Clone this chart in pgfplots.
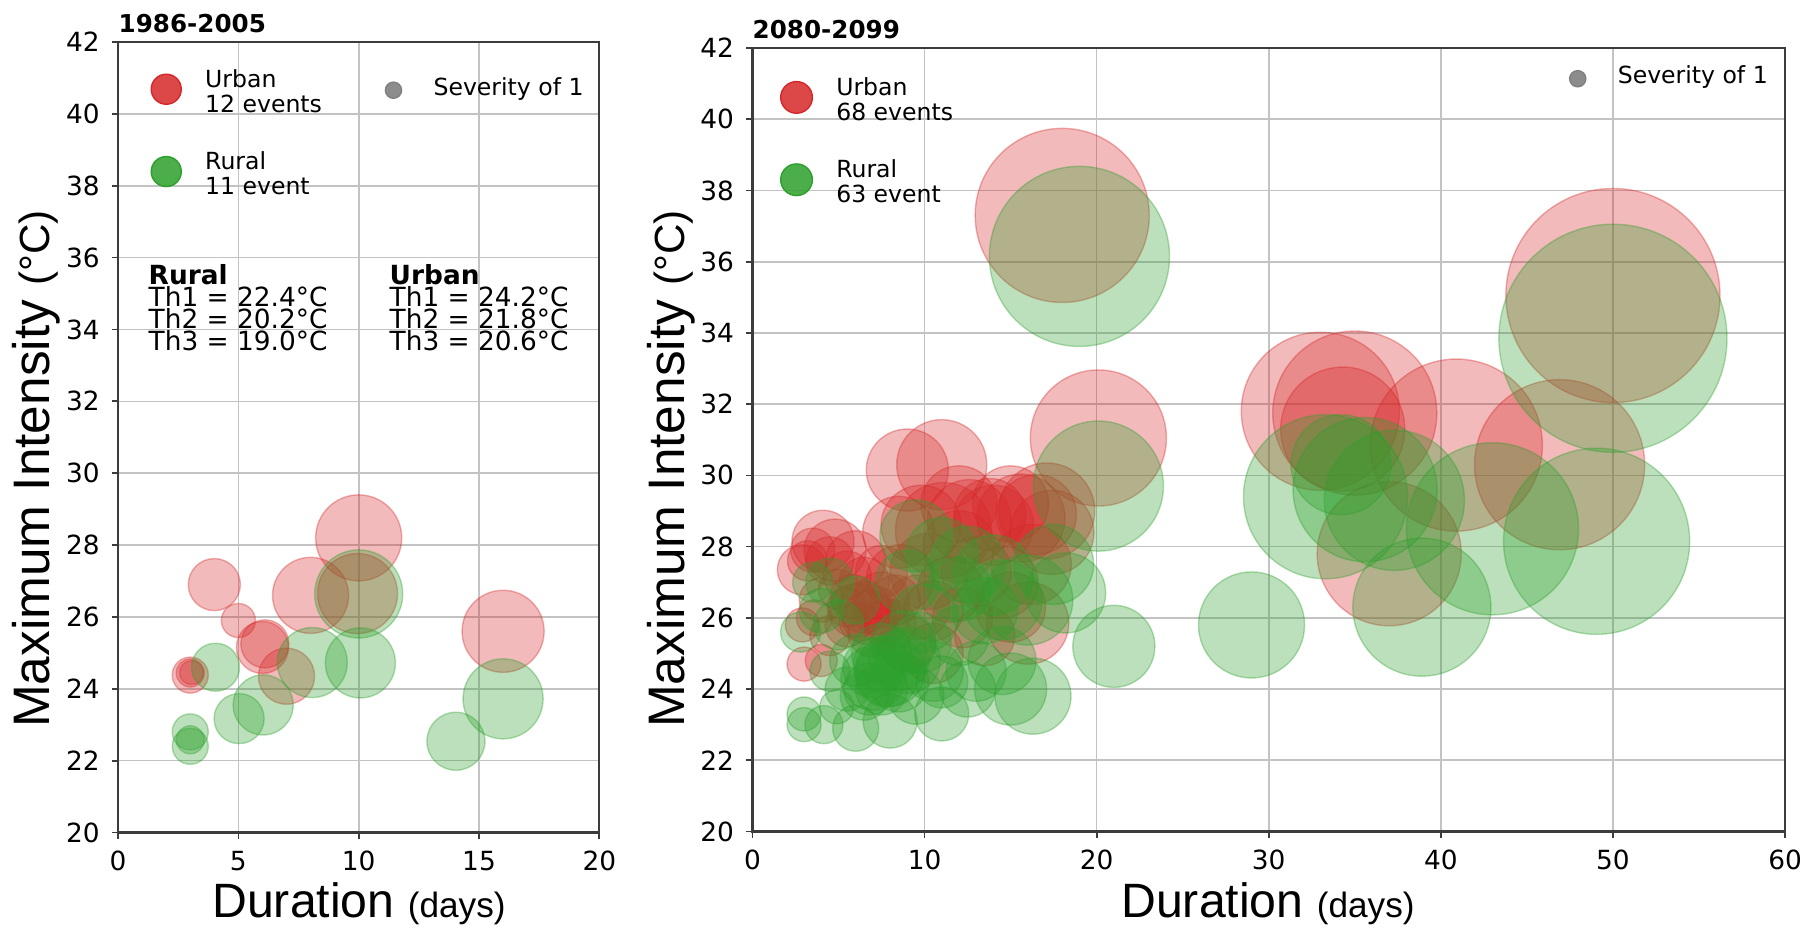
\documentclass[border=0pt]{standalone}
\usepackage{pgfplots}
\pgfplotsset{compat=1.18}
\usepackage{pgfplotstable}
\usepackage{fontspec}
\setmainfont{DejaVu Sans}
\newfontfamily\arialf{Liberation Sans}
\definecolor{urb}{RGB}{214,39,40}
\definecolor{rur}{RGB}{44,160,44}
\definecolor{gridc}{RGB}{195,195,195}
\definecolor{framec}{RGB}{60,60,60}

% Left panel 1986-2005 (x = duration, y = max intensity, r = bubble radius in px)
\pgfplotstableread{
x y r
10 28.2 43
4 26.9 26
5 25.9 17
6 25.15 26
6.1 25.25 24
3 24.38 18
3 24.44 14
3.05 24.45 12
7 24.35 28
8 26.6 38
9.95 26.65 40
16 25.6 41
}\LU
\pgfplotstableread{
x y r
3 22.8 18
3 22.4 18
3 22.58 14
4.05 24.6 24
5.03 23.17 25
6.03 23.55 30
8.07 24.73 35
10.07 24.72 35
10.0 26.64 44
14.04 22.54 29
16.0 23.72 40
}\LR
% Right panel 2080-2099
\pgfplotstableread{
x y r
18.0 37.3 87
20.1 31.05 68
50.0 35.05 107
33.0 31.8 79
35.0 31.75 82
34.3 31.3 62
40.9 30.85 86
46.9 30.3 85
37.0 27.8 72
9.0 30.15 41
11.0 30.3 45
11.1 28.45 48
12.6 28.7 42
14.0 28.6 40
15.6 28.8 44
17.1 29.0 48
17.4 28.4 42
16.2 27.5 40
14.5 27.0 36
13.0 27.3 35
10.2 27.3 38
8.6 27.1 34
9.6 26.3 32
16.0 25.85 41
15.0 26.3 35
12.2 26.0 30
4.1 28.15 31
4.8 27.9 31
6.0 27.6 30
2.9 27.35 25
3.5 27.9 22
5.5 27.2 24
2.9 25.8 17
3.0 24.7 17
4.0 24.8 16
4.5 25.5 20
6.0 26.2 27
6.8 26.0 27
7.5 26.5 28
7.0 25.6 25
5.5 25.8 22
8.0 25.8 26
9.0 25.3 28
10.5 25.0 30
11.5 26.8 33
13.5 25.5 30
6.5 27.0 25
4.0 26.5 22
5.0 26.8 20
7.5 27.3 26
9.8 28.6 40
3.6 26.0 18
8.5 28.4 36
12.0 29.2 38
5.8 26.6 22
6.5 26.3 26
7.2 26.2 24
7.8 25.9 22
6.2 25.9 20
8.3 26.5 25
5.5 26.3 20
12.0 28.0 36
13.8 28.9 36
15.0 29.2 38
16.5 28.9 40
3.2 27.6 20
4.5 27.6 24
10.5 26.2 30
}\RU
\pgfplotstableread{
x y r
19.0 36.15 90
20.1 29.7 65
50.0 33.85 114
49.05 28.15 93
29.0 25.8 53
38.9 26.3 69
33.3 29.4 82
35.6 29.6 72
37.3 29.3 70
43.0 28.5 86
34.2 30.3 50
21.0 25.2 41
18.2 26.7 40
17.5 27.5 40
16.3 23.8 38
15.0 24.0 36
14.5 24.8 34
16.0 26.5 45
14.0 27.2 40
12.5 27.5 38
11.0 27.8 36
9.5 28.3 36
9.0 27.0 32
10.0 26.0 34
12.0 25.5 30
13.5 26.2 33
8.0 24.5 35
7.0 24.3 32
7.5 25.0 30
9.0 24.8 33
10.5 24.5 30
6.0 24.8 26
5.0 25.8 25
4.0 26.2 22
3.5 27.0 20
2.8 25.6 20
4.5 27.0 24
6.0 26.5 24
5.5 24.0 22
4.5 24.5 20
3.0 23.3 17
3.0 23.0 17
4.15 23.0 19
4.9 23.5 17
6.0 22.9 23
8.0 23.1 27
11.0 23.3 27
6.5 23.8 24
7.5 24.0 26
8.5 24.2 30
9.5 23.8 28
11.0 24.2 26
13.0 24.5 30
12.0 26.8 32
7.0 24.6 30
7.8 24.4 32
8.5 24.8 30
7.5 24.7 28
6.8 24.0 26
8.8 25.3 32
9.8 25.3 30
12.5 24.0 28
14.5 26.5 40
}\RR

\pgfplotsset{
  panel/.style={
    scale only axis, anchor=south west,
    ymin=20, ymax=42, ytick={20,22,...,42},
    axis line style={framec, line width=0.6pt},
    grid=major, major grid style={gridc, line width=0.45pt},
    tick align=outside, major tick length=0.06cm,
    tick style={framec, line width=0.5pt},
    xtick pos=bottom, ytick pos=left,
    ticklabel style={font=\fontsize{7.5}{8}\selectfont},
    /pgf/number format/assume math mode=true,
  },
  bubble/.style={
    scatter, only marks, mark=*,
    scatter/use mapped color={draw=#1, fill=#1, draw opacity=0.36, fill opacity=0.32, line width=0.4pt},
    visualization depends on={0.28453*\thisrow{r} \as \rpt},
    scatter/@pre marker code/.append style={/tikz/mark size=\rpt pt},
  },
  legaxis/.style={
    scale only axis, anchor=south west, hide axis,
    xmin=0, xmax=1, ymin=0, ymax=1,
    legend cell align=left,
    legend style={draw=none, fill=none, inner sep=0pt,
      font=\fontsize{6.7}{7.1}\selectfont,
      /tikz/every odd column/.append style={column sep=4.6pt}},
  },
  dotimg/.style={legend image code/.code={\fill[##1] (0pt,-0.4pt) circle (#1);}},
  sevimg/.style={legend image code/.code={\fill[##1] (0pt,-0.2pt) circle (#1); \path[draw=none, fill=none] (0pt,0pt) -- (4.8pt,0pt);}},
}

\begin{document}
\begin{tikzpicture}
% ---------------- left panel ----------------
\begin{axis}[panel, at={(1.18cm,-8.32cm)}, width=4.81cm, height=7.90cm,
  xmin=0, xmax=20, xtick={0,5,...,20}]
\addplot[bubble=urb] table {\LU};
\addplot[bubble=rur] table {\LR};
\end{axis}
\begin{axis}[legaxis, at={(1.18cm,-8.32cm)}, width=4.81cm, height=7.90cm,
  legend style={at={(rel axis cs:0.066,0.975)}, anchor=north west, row sep=9pt}]
\addlegendimage{dotimg=4.27pt, urb, fill opacity=0.85}
\addlegendentry{\begin{tabular}{@{}l@{}}Urban\\12 events\end{tabular}}
\addlegendimage{dotimg=4.27pt, rur, fill opacity=0.85}
\addlegendentry{\begin{tabular}{@{}l@{}}Rural\\11 event\end{tabular}}
\end{axis}
\begin{axis}[legaxis, at={(1.18cm,-8.32cm)}, width=4.81cm, height=7.90cm,
  legend style={at={(rel axis cs:0.5525,0.965)}, anchor=north west}]
\addlegendimage{sevimg=2.3pt, black!50, fill opacity=0.9}
\addlegendentry{\begin{tabular}{@{}l@{}}Severity of 1\end{tabular}}
\end{axis}

% ---------------- right panel ----------------
\begin{axis}[panel, at={(7.52cm,-8.31cm)}, width=10.32cm, height=7.83cm,
  xmin=0, xmax=60, xtick={0,10,...,60}]
\addplot[bubble=urb] table {\RU};
\addplot[bubble=rur] table {\RR};
\end{axis}
\begin{axis}[legaxis, at={(7.52cm,-8.31cm)}, width=10.32cm, height=7.83cm,
  legend style={at={(rel axis cs:0.026,0.972)}, anchor=north west, row sep=9pt}]
\addlegendimage{dotimg=4.5pt, urb, fill opacity=0.85}
\addlegendentry{\begin{tabular}{@{}l@{}}Urban\\68 events\end{tabular}}
\addlegendimage{dotimg=4.5pt, rur, fill opacity=0.85}
\addlegendentry{\begin{tabular}{@{}l@{}}Rural\\63 event\end{tabular}}
\end{axis}
\begin{axis}[legaxis, at={(7.52cm,-8.31cm)}, width=10.32cm, height=7.83cm,
  legend style={at={(rel axis cs:0.790,0.987)}, anchor=north west}]
\addlegendimage{sevimg=2.3pt, black!50, fill opacity=0.9}
\addlegendentry{\begin{tabular}{@{}l@{}}Severity of 1\end{tabular}}
\end{axis}

\begin{scope}[x=0.01cm, y=-0.01cm]
\begin{scope}[every node/.style={anchor=base west, inner sep=0pt, font=\fontsize{7.5}{7.5}\selectfont}]
\node at (148,284) {\textbf{Rural}};
\node at (148,306) {Th1 = 22.4°C};
\node at (148,328) {Th2 = 20.2°C};
\node at (148,350) {Th3 = 19.0°C};
\node at (389,284) {\textbf{Urban}};
\node at (389,306) {Th1 = 24.2°C};
\node at (389,328) {Th2 = 21.8°C};
\node at (389,350) {Th3 = 20.6°C};
\end{scope}
\node[anchor=base west, inner sep=0pt, font=\fontsize{7}{8}\selectfont\bfseries] at (118,32) {1986-2005};
\node[rotate=90, anchor=center, inner sep=0pt] at (36,469) {\arialf\fontsize{14.6}{16}\selectfont Maximum Intensity \fontsize{12}{13}\selectfont(°C)};
\node[anchor=base, inner sep=0pt] at (359,917) {\arialf\fontsize{13.7}{14}\selectfont Duration \fontsize{10}{11}\selectfont(days)};
\node[anchor=base west, inner sep=0pt, font=\fontsize{7}{8}\selectfont\bfseries] at (752,38) {2080-2099};
\node[rotate=90, anchor=center, inner sep=0pt] at (671,469) {\arialf\fontsize{14.6}{16}\selectfont Maximum Intensity \fontsize{12}{13}\selectfont(°C)};
\node[anchor=base, inner sep=0pt] at (1268,917) {\arialf\fontsize{13.7}{14}\selectfont Duration \fontsize{10}{11}\selectfont(days)};
\pgfresetboundingbox
\useasboundingbox (0,0) rectangle (1803,930);
\end{scope}
\end{tikzpicture}
\end{document}
